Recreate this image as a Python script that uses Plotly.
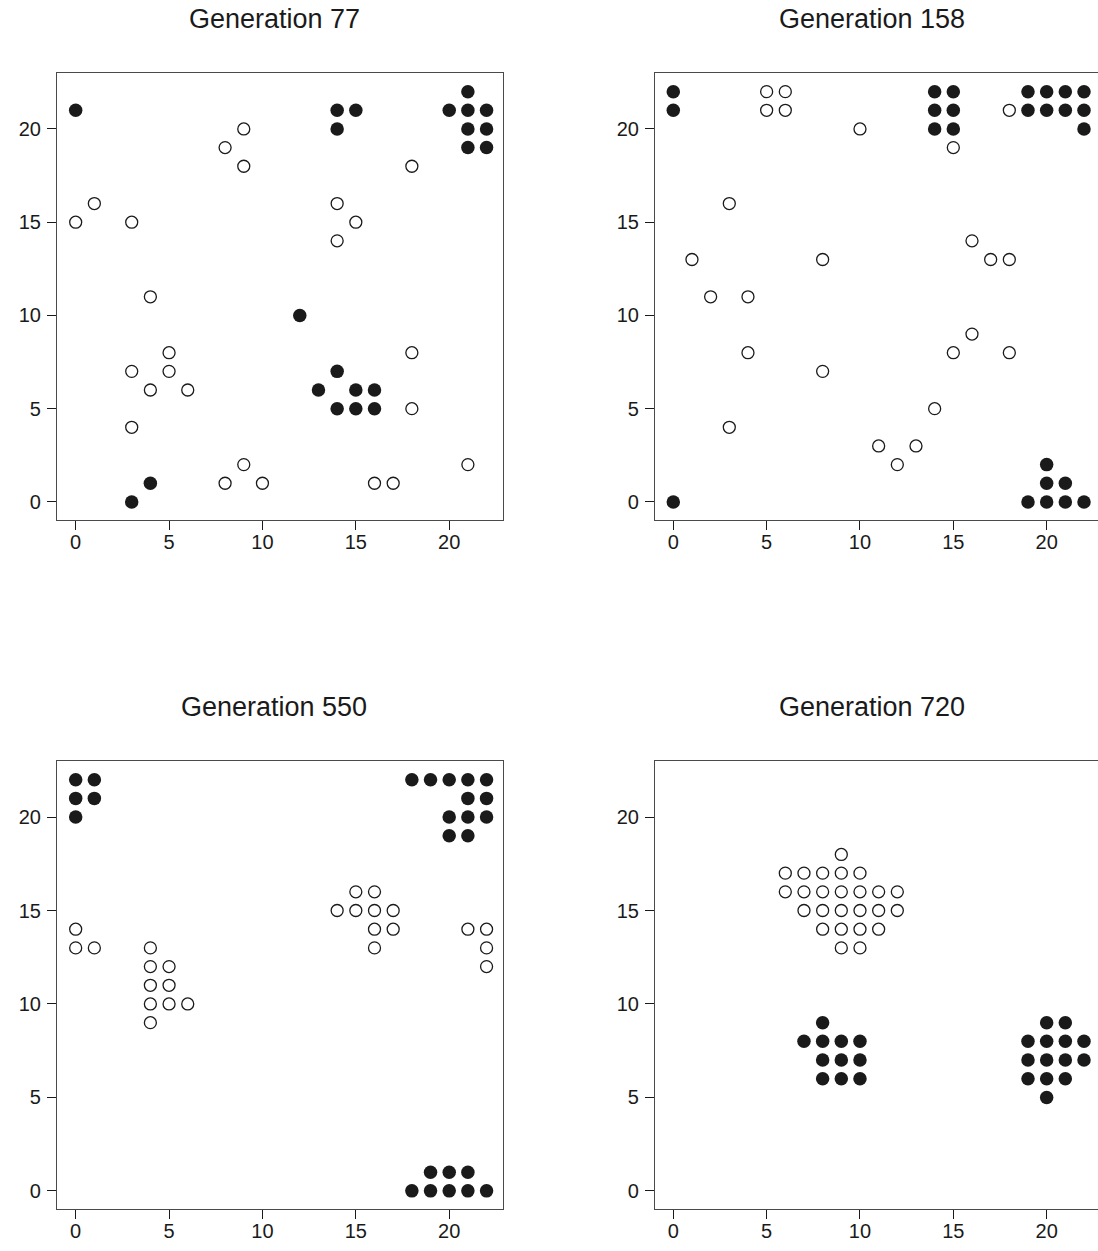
import plotly.graph_objects as go

# Cell states on a 23 x 23 lattice at four generations.
# "filled" cells are drawn as solid dots, "open" cells as hollow rings.

gen77_filled_x = [0, 14, 15, 14, 21, 20, 21, 22, 21, 22, 21, 22, 12, 14, 13, 15, 16, 14, 15, 16, 4, 3]
gen77_filled_y = [21, 21, 21, 20, 22, 21, 21, 21, 20, 20, 19, 19, 10, 7, 6, 6, 6, 5, 5, 5, 1, 0]
gen77_open_x = [9, 8, 9, 18, 0, 1, 3, 14, 15, 14, 4, 5, 5, 3, 4, 6, 3, 18, 18, 9, 8, 10, 16, 17, 21]
gen77_open_y = [20, 19, 18, 18, 15, 16, 15, 16, 15, 14, 11, 8, 7, 7, 6, 6, 4, 8, 5, 2, 1, 1, 1, 1, 2]

gen158_filled_x = [0, 0, 0, 14, 15, 14, 15, 14, 15, 19, 20, 21, 22, 19, 20, 21, 22, 22,
                   20, 20, 21, 19, 20, 21, 22]
gen158_filled_y = [22, 21, 0, 22, 22, 21, 21, 20, 20, 22, 22, 22, 22, 21, 21, 21, 21, 20,
                   2, 1, 1, 0, 0, 0, 0]
gen158_open_x = [5, 6, 5, 6, 10, 15, 18, 3, 1, 8, 2, 4, 16, 17, 18, 4, 16, 15, 18, 8, 14, 3, 11, 13, 12]
gen158_open_y = [22, 22, 21, 21, 20, 19, 21, 16, 13, 13, 11, 11, 14, 13, 13, 8, 9, 8, 8, 7, 5, 4, 3, 3, 2]

gen550_filled_x = [0, 1, 0, 1, 0, 18, 19, 20, 21, 22, 21, 22, 20, 21, 22, 20, 21,
                   19, 20, 21, 18, 19, 20, 21, 22]
gen550_filled_y = [22, 22, 21, 21, 20, 22, 22, 22, 22, 22, 21, 21, 20, 20, 20, 19, 19,
                   1, 1, 1, 0, 0, 0, 0, 0]
gen550_open_x = [15, 16, 14, 15, 16, 17, 16, 17, 16, 21, 22, 22, 22, 0, 0, 1,
                 4, 4, 5, 4, 5, 4, 5, 6, 4]
gen550_open_y = [16, 16, 15, 15, 15, 15, 14, 14, 13, 14, 14, 13, 12, 14, 13, 13,
                 13, 12, 12, 11, 11, 10, 10, 10, 9]

gen720_filled_x = [8, 7, 8, 9, 10, 8, 9, 10, 8, 9, 10,
                   20, 21, 19, 20, 21, 22, 19, 20, 21, 22, 19, 20, 21, 20]
gen720_filled_y = [9, 8, 8, 8, 8, 7, 7, 7, 6, 6, 6,
                   9, 9, 8, 8, 8, 8, 7, 7, 7, 7, 6, 6, 6, 5]
gen720_open_x = [9, 6, 7, 8, 9, 10, 6, 7, 8, 9, 10, 11, 12,
                 7, 8, 9, 10, 11, 12, 8, 9, 10, 11, 9, 10]
gen720_open_y = [18, 17, 17, 17, 17, 17, 16, 16, 16, 16, 16, 16, 16,
                 15, 15, 15, 15, 15, 15, 14, 14, 14, 14, 13, 13]

panel_titles = ["Generation 77", "Generation 158", "Generation 550", "Generation 720"]
tick_values = [0, 5, 10, 15, 20]

panels = [
    (gen77_filled_x, gen77_filled_y, gen77_open_x, gen77_open_y),
    (gen158_filled_x, gen158_filled_y, gen158_open_x, gen158_open_y),
    (gen550_filled_x, gen550_filled_y, gen550_open_x, gen550_open_y),
    (gen720_filled_x, gen720_filled_y, gen720_open_x, gen720_open_y),
]

W, H = 1098, 1251
FONT = "Liberation Sans, Arial, Helvetica, sans-serif"
BOX = "#4a4a4a"
INK = "#1a1a1a"

# panel boxes in pixels: (left, right, top, bottom)
boxes = [
    (57, 503, 73, 520),
    (655, 1098, 73, 520),
    (57, 503, 761, 1209),
    (655, 1098, 761, 1209),
]
x_ranges = [[-1.0, 22.88], [-0.98, 22.75], [-1.0, 22.88], [-0.98, 22.75]]
y_range = [-0.97, 23.0]

fig = go.Figure()
layout = {}
annotations = []

for i, ((fx, fy, ox, oy), (l, r, t, b)) in enumerate(zip(panels, boxes)):
    n = "" if i == 0 else str(i + 1)
    xa, ya = "x" + n, "y" + n
    fig.add_trace(go.Scatter(
        x=ox, y=oy, mode="markers", xaxis=xa, yaxis=ya, showlegend=False,
        marker=dict(size=12, color="white", line=dict(color=INK, width=1.3)),
    ))
    fig.add_trace(go.Scatter(
        x=fx, y=fy, mode="markers", xaxis=xa, yaxis=ya, showlegend=False,
        marker=dict(size=13.5, color=INK, line=dict(width=0)),
    ))
    right_col = i % 2 == 1
    common = dict(
        showgrid=False, zeroline=False, showline=True, linecolor=BOX, linewidth=1.2,
        ticks="outside", ticklen=9, tickwidth=1, tickcolor=INK,
        tickvals=tick_values, ticktext=[str(v) for v in tick_values],
        tickfont=dict(family=FONT, size=20, color=INK), fixedrange=True,
    )
    layout["xaxis" + n] = dict(
        common, domain=[l / W, r / W], range=x_ranges[i], anchor=ya,
        mirror=True, ticklabelstandoff=-5,
    )
    layout["yaxis" + n] = dict(
        common, domain=[1 - b / H, 1 - t / H], range=y_range, anchor=xa,
        mirror=not right_col, ticklabelstandoff=2,
    )
    cx = 274 if not right_col else 872
    cy = 19 if i < 2 else 707
    annotations.append(dict(
        text=panel_titles[i], x=cx / W, y=1 - cy / H, xref="paper", yref="paper",
        xanchor="center", yanchor="middle", showarrow=False,
        font=dict(family=FONT, size=27, color=INK),
    ))

fig.update_layout(
    width=W, height=H, margin=dict(l=0, r=0, t=0, b=0),
    paper_bgcolor="white", plot_bgcolor="white",
    annotations=annotations, **layout,
)

fig.write_html("out.html")
